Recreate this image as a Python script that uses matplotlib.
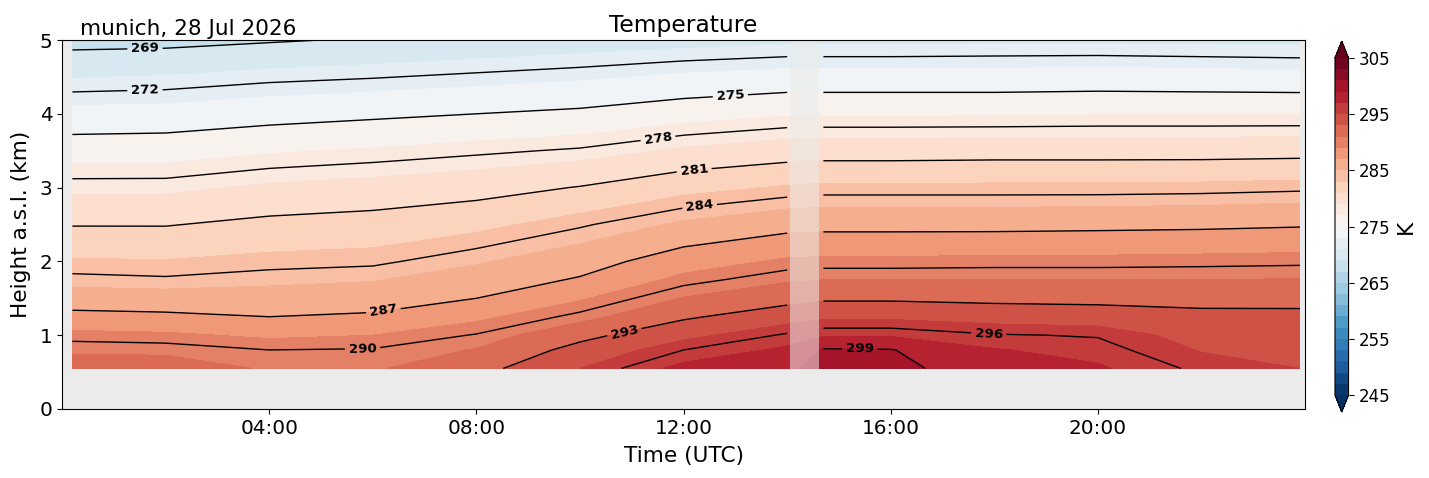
import numpy as np
import matplotlib
matplotlib.use("Agg")
import matplotlib.pyplot as plt

# time (hours UTC) and height (km a.s.l.) of the retrieval grid
hours = [0.2, 2, 4, 6, 8, 10, 12, 14, 14.7, 16, 18, 20, 22, 23.9]
heights = [0.55, 0.8, 1.0, 1.25, 1.5, 1.75, 2.0, 2.5, 3.0, 3.5, 4.0, 4.5, 5.0]

# temperature (K), one list per time step, bottom -> top
t_0020 = [292.0, 290.7, 289.5, 287.6, 285.9, 284.4, 283.2, 280.9, 278.6, 276.1, 273.6, 270.9, 268.3]
t_0200 = [292.0, 290.6, 289.3, 287.4, 285.8, 284.2, 283.1, 280.9, 278.6, 276.2, 273.7, 271.1, 268.4]
t_0400 = [290.8, 290.0, 288.7, 287.0, 285.8, 284.6, 283.5, 281.5, 279.3, 276.8, 274.2, 271.6, 268.8]
t_0600 = [290.8, 290.1, 289.0, 287.3, 286.0, 284.9, 283.7, 281.8, 279.7, 277.2, 274.6, 271.9, 269.2]
t_0800 = [292.3, 291.1, 290.1, 288.6, 287.0, 285.9, 284.8, 282.5, 280.2, 277.7, 275.0, 272.3, 269.6]
t_1000 = [295.0, 293.7, 292.4, 290.4, 288.8, 287.2, 286.1, 283.8, 281.1, 278.2, 275.4, 272.7, 270.0]
t_1200 = [297.5, 296.0, 294.5, 292.7, 291.1, 289.5, 288.1, 285.3, 282.4, 279.3, 276.2, 273.3, 270.3]
t_1400 = [298.8, 297.3, 296.2, 294.2, 292.3, 290.8, 289.3, 286.3, 283.2, 280.0, 276.8, 273.7, 270.6]
t_1442 = [299.4, 299.2, 296.8, 294.7, 292.7, 291.0, 289.4, 286.4, 283.4, 280.1, 276.8, 273.7, 270.6]
t_1600 = [299.4, 299.1, 296.8, 294.7, 292.7, 291.0, 289.4, 286.4, 283.4, 280.1, 276.8, 273.7, 270.6]
t_1800 = [298.2, 297.1, 296.1, 294.3, 292.5, 291.0, 289.5, 286.4, 283.4, 280.2, 276.8, 273.7, 270.7]
t_2000 = [297.2, 296.5, 295.9, 294.1, 292.4, 291.0, 289.5, 286.5, 283.4, 280.2, 276.9, 273.8, 270.7]
t_2200 = [295.7, 294.9, 294.3, 293.5, 292.4, 291.0, 289.6, 286.6, 283.5, 280.2, 276.9, 273.7, 270.6]
t_2354 = [295.0, 294.4, 293.9, 293.4, 292.5, 291.1, 289.7, 286.8, 283.7, 280.3, 276.9, 273.6, 270.5]

# missing data period (hours)
gap_start = 14.06
gap_end = 14.62

temp = np.array([t_0020, t_0200, t_0400, t_0600, t_0800, t_1000, t_1200,
                 t_1400, t_1442, t_1600, t_1800, t_2000, t_2200, t_2354]).T
hrs = np.array(hours)
before = hrs < gap_start
after = hrs > gap_end

fill_levels = np.arange(245, 306, 2)
line_levels = np.arange(269, 300, 3)

fig = plt.figure(figsize=(14.29, 4.78), dpi=100)
ax = fig.add_axes([0.0434, 0.1444, 0.8699, 0.7719])
ax.set_facecolor('#ebebeb')

cf = ax.contourf(hours, heights, temp, levels=fill_levels, cmap='RdBu_r', extend='both')
# grey out the gap where there are no measurements
ax.axvspan(gap_start, gap_end, color='#ebebeb', alpha=0.55, lw=0, zorder=1.5)

# contour lines, broken at the gap
cs1 = ax.contour(hrs[before], heights, temp[:, before], levels=line_levels,
                 colors='k', linewidths=1, zorder=2)
cs2 = ax.contour(hrs[after], heights, temp[:, after], levels=line_levels,
                 colors='k', linewidths=1, zorder=2)
pos1 = [(1.6, 4.95), (1.6, 4.32), (12.9, 4.27), (11.5, 3.7), (12.2, 3.27),
        (12.3, 2.8), (6.2, 1.35), (5.8, 0.86), (10.8, 1.2)]
pos2 = [(17.9, 1.1), (15.4, 0.85)]
lbls = ax.clabel(cs1, fmt='%d', fontsize=9.6, manual=pos1, inline=True)
lbls += ax.clabel(cs2, fmt='%d', fontsize=9.6, manual=pos2, inline=True)
for t in lbls:
    t.set_fontweight('bold')

ax.set_xlim(0, 24)
ax.set_ylim(0, 5)
ax.set_xticks([4, 8, 12, 16, 20])
ax.set_xticklabels(['04:00', '08:00', '12:00', '16:00', '20:00'])
ax.set_yticks([0, 1, 2, 3, 4, 5])
ax.tick_params(labelsize=14.4)
ax.set_xlabel('Time (UTC)', fontsize=15.6, labelpad=6)
ax.set_ylabel('Height a.s.l. (km)', fontsize=15.6, labelpad=6)
ax.set_title('Temperature', fontsize=16.8, pad=6)
ax.text(0.0145, 1.004, 'munich, 28 Jul 2026', transform=ax.transAxes,
        fontsize=15.6, ha='left', va='bottom')

cax = fig.add_axes([0.9342, 0.138, 0.0095, 0.776])
cb = fig.colorbar(cf, cax=cax, ticks=np.arange(245, 306, 10))
cb.ax.tick_params(labelsize=12)
cb.set_label('K', fontsize=15.6)

fig.savefig('out.png', dpi=100)
